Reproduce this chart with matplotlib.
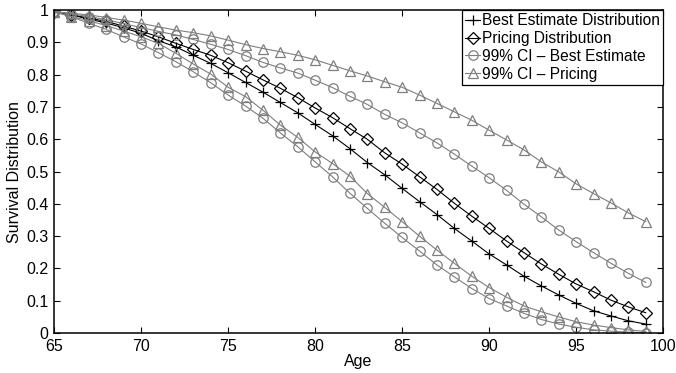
import matplotlib
matplotlib.use("Agg")
import matplotlib.pyplot as plt

plt.rcParams["font.family"] = ["Liberation Sans", "DejaVu Sans"]

ages = list(range(65, 100))

best_estimate = [0.995, 0.985, 0.972, 0.960, 0.945, 0.928, 0.905, 0.886, 0.860, 0.835,
                 0.806, 0.776, 0.746, 0.714, 0.682, 0.646, 0.611, 0.571, 0.528, 0.490,
                 0.448, 0.407, 0.367, 0.324, 0.285, 0.245, 0.211, 0.176, 0.146, 0.118,
                 0.092, 0.069, 0.053, 0.038, 0.028]
pricing = [0.995, 0.985, 0.975, 0.965, 0.950, 0.935, 0.917, 0.897, 0.878, 0.860,
           0.837, 0.811, 0.784, 0.758, 0.729, 0.697, 0.667, 0.633, 0.600, 0.558,
           0.523, 0.484, 0.445, 0.402, 0.362, 0.324, 0.285, 0.249, 0.214, 0.182,
           0.152, 0.128, 0.102, 0.081, 0.063]
ci_best_upper = [0.995, 0.988, 0.980, 0.970, 0.958, 0.946, 0.934, 0.923, 0.909, 0.894,
                 0.878, 0.859, 0.838, 0.821, 0.805, 0.783, 0.760, 0.733, 0.708, 0.677,
                 0.651, 0.620, 0.589, 0.554, 0.517, 0.481, 0.442, 0.399, 0.360, 0.319,
                 0.283, 0.249, 0.216, 0.185, 0.157]
ci_best_lower = [0.995, 0.979, 0.959, 0.940, 0.917, 0.895, 0.868, 0.840, 0.809, 0.775,
                 0.737, 0.703, 0.665, 0.620, 0.577, 0.530, 0.484, 0.433, 0.386, 0.340,
                 0.296, 0.254, 0.211, 0.174, 0.138, 0.107, 0.084, 0.061, 0.042, 0.028,
                 0.018, 0.010, 0.006, 0.003, 0.001]
ci_pricing_upper = [0.995, 0.990, 0.985, 0.977, 0.969, 0.959, 0.948, 0.938, 0.930, 0.920,
                    0.907, 0.893, 0.881, 0.871, 0.860, 0.846, 0.829, 0.812, 0.796, 0.778,
                    0.761, 0.737, 0.711, 0.685, 0.659, 0.628, 0.598, 0.567, 0.530, 0.499,
                    0.462, 0.432, 0.403, 0.372, 0.345]
ci_pricing_lower = [0.995, 0.980, 0.967, 0.952, 0.935, 0.917, 0.897, 0.866, 0.833, 0.802,
                    0.761, 0.732, 0.690, 0.644, 0.606, 0.561, 0.525, 0.486, 0.432, 0.389,
                    0.345, 0.300, 0.257, 0.216, 0.176, 0.141, 0.111, 0.084, 0.066, 0.050,
                    0.035, 0.025, 0.017, 0.010, 0.005]

GREY = "#7f7f7f"
ms = 6.8

fig = plt.figure(figsize=(6.76, 3.73), dpi=100)
ax = fig.add_axes([0.080, 0.107, 0.901, 0.866])

ax.plot(ages, best_estimate, color="black", lw=0.8, marker="+", ms=7.5,
        mew=0.9, label="Best Estimate Distribution")
ax.plot(ages, pricing, color="black", lw=0.8, marker="D", ms=5.8,
        mfc="none", mew=0.9, label="Pricing Distribution")
ax.plot(ages, ci_best_upper, color=GREY, lw=0.8, marker="o", ms=ms,
        mfc="none", mew=0.9, label="99% CI \u2013 Best Estimate")
ax.plot(ages, ci_pricing_upper, color=GREY, lw=0.8, marker="^", ms=ms + 0.5,
        mfc="none", mew=0.9, label="99% CI \u2013 Pricing")
ax.plot(ages, ci_best_lower, color=GREY, lw=0.8, marker="o", ms=ms,
        mfc="none", mew=0.9)
ax.plot(ages, ci_pricing_lower, color=GREY, lw=0.8, marker="^", ms=ms + 0.5,
        mfc="none", mew=0.9)

ax.set_xlim(65, 100)
ax.set_ylim(0, 1)
ax.set_xticks(range(65, 101, 5))
ax.set_yticks([i / 10 for i in range(11)])
ax.set_yticklabels(["0"] + [f"{i / 10:.1f}" for i in range(1, 10)] + ["1"])
ax.tick_params(direction="in", top=True, right=True, labelsize=11.5, length=4,
               width=0.8, pad=4)
for spine in ax.spines.values():
    spine.set_linewidth(1.1)

ax.set_xlabel("Age", fontsize=11.5, labelpad=0)
ax.set_ylabel("Survival Distribution", fontsize=11.5, labelpad=3)

leg = ax.legend(loc="upper right", fontsize=11.2, handlelength=1.0,
                handletextpad=0.1, borderpad=0.2, labelspacing=0.18,
                borderaxespad=0.0, fancybox=False, framealpha=1)
leg.get_frame().set_edgecolor("black")
leg.get_frame().set_linewidth(0.9)

fig.savefig("out.png", dpi=100)
